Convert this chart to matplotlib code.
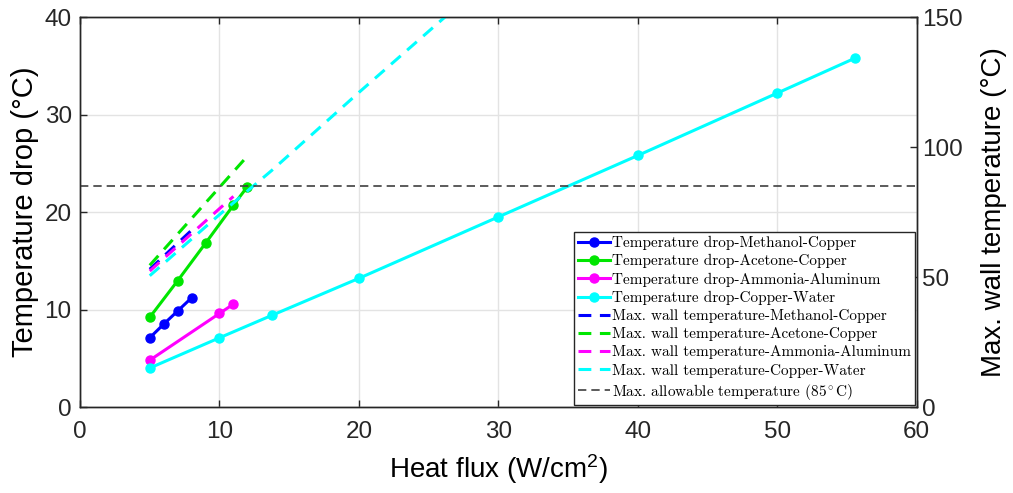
import matplotlib
matplotlib.use('Agg')
import matplotlib.pyplot as plt

plt.rcParams['font.family'] = ['Liberation Sans', 'DejaVu Sans']
plt.rcParams['mathtext.fontset'] = 'custom'
plt.rcParams['mathtext.rm'] = 'Liberation Sans'
plt.rcParams['mathtext.it'] = 'Liberation Sans:italic'

# temperature drop data (left axis)
x_methanol = [5, 6, 7, 8]
dt_methanol = [7.1, 8.5, 9.85, 11.2]
x_acetone = [5, 7, 9, 11, 12]
dt_acetone = [9.2, 12.95, 16.8, 20.7, 22.6]
x_ammonia = [5, 10, 11]
dt_ammonia = [4.8, 9.6, 10.55]
x_water = [5, 10, 13.75, 20, 30, 40, 50, 55.6]
dt_water = [4.0, 7.1, 9.4, 13.2, 19.5, 25.8, 32.2, 35.8]

# max. wall temperature data (right axis)
tw_methanol = [53.0, 58.0, 63.0, 68.0]
tw_acetone = [54.5, 66.5, 78.5, 90.5, 96.5]
tw_ammonia = [52.3, 76.3, 81.0]
tw_water = [50.5, 74.0, 91.0, 121.0, 168.0, 215.0, 262.0, 288.0]

t_allow = 85
fluids = ['Methanol-Copper', 'Acetone-Copper', 'Ammonia-Aluminum', 'Copper-Water']
colors = ['#0000ff', '#00e600', '#ff00ff', '#00ffff']

fig = plt.figure(figsize=(10.13, 4.93), dpi=100)
ax = fig.add_axes([0.079, 0.1744, 0.826, 0.7911])
ax2 = ax.twinx()

xs = [x_methanol, x_acetone, x_ammonia, x_water]
dts = [dt_methanol, dt_acetone, dt_ammonia, dt_water]
tws = [tw_methanol, tw_acetone, tw_ammonia, tw_water]

handles = []
# solid lines with markers for the temperature drop
for x, dt, c, name in zip(xs, dts, colors, fluids):
    h, = ax.plot(x, dt, '-o', color=c, lw=2.2, ms=6.5, mfc=c, mec=c,
                 label='Temperature drop-' + name)
    handles.append(h)

# dashed lines for the wall temperature
for x, tw, c, name in zip(xs, tws, colors, fluids):
    h, = ax2.plot(x, tw, '--', color=c, lw=2.2, dashes=(4.2, 2.8),
                  label='Max. wall temperature-' + name)
    handles.append(h)

h = ax2.axhline(t_allow, color='#404040', lw=1.2, ls='--', dashes=(5, 3),
                label=r'Max. allowable temperature (85$^\circ$C)')
handles.append(h)

ax.set_xlim(0, 60)
ax.set_ylim(0, 40)
ax2.set_ylim(0, 150)
ax.set_xticks([0, 10, 20, 30, 40, 50, 60])
ax.set_yticks([0, 10, 20, 30, 40])
ax2.set_yticks([0, 50, 100, 150])

ax.grid(True, color='#e3e3e3', lw=1)
ax.set_axisbelow(True)

ax.set_xlabel('Heat flux (W/cm$^2$)', fontsize=20, labelpad=7)
ax.set_ylabel('Temperature drop (°C)', fontsize=21, labelpad=4)
ax2.set_ylabel('Max. wall temperature (°C)', fontsize=20, labelpad=13)

for a in (ax, ax2):
    a.tick_params(direction='in', labelsize=17.5, length=5, width=1,
                  color='#262626', labelcolor='#262626')
    for s in a.spines.values():
        s.set_color('#262626')
        s.set_linewidth(1)
ax.tick_params(top=True)
ax.tick_params(axis='x', pad=10)
ax.tick_params(axis='y', pad=6)
ax2.tick_params(axis='y', pad=4)

leg = ax2.legend(handles=handles, loc='lower right',
                 bbox_to_anchor=(0.998, 0.004), borderaxespad=0,
                 prop={'family': ['cmr10', 'DejaVu Serif'], 'size': 11},
                 fancybox=False, edgecolor='#262626', framealpha=1,
                 handlelength=2.1, handletextpad=0.15, labelspacing=0.27,
                 borderpad=0.25)
leg.get_frame().set_linewidth(1)

plt.savefig('out.png', dpi=100)
plt.close()
